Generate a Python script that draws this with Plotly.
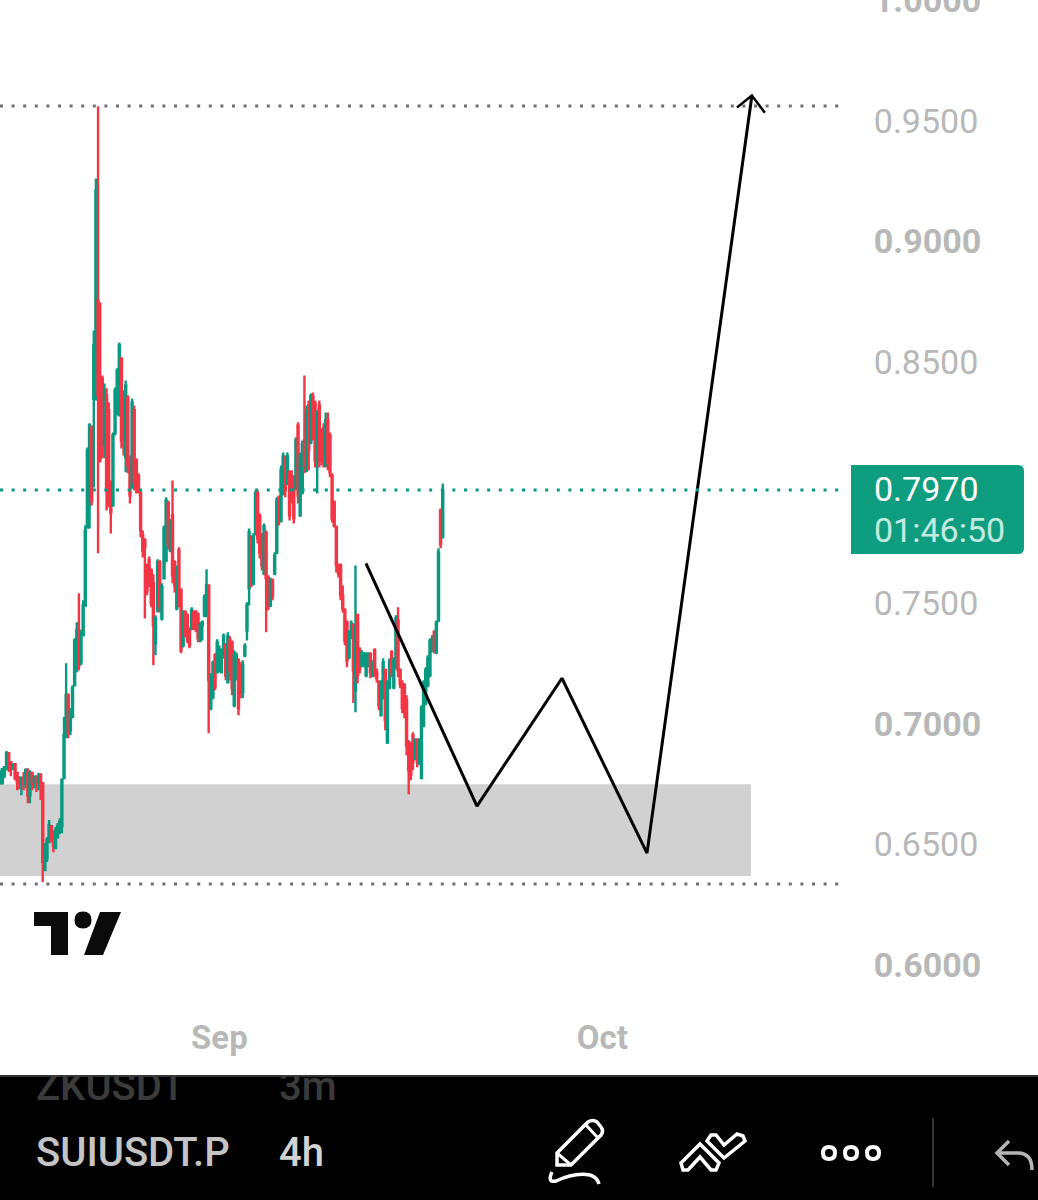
import re

import pandas as pd
import plotly.graph_objects as go

W = 1038
H = 1200

opens = [
    .6754, .6754, .6787, .6816, .6878, .6841, .6816, .6833, .6796, .6766,
    .6750, .6775, .6754, .6800, .6704, .6796, .6758, .6775, .6758, .6787,
    .6754, .6394, .6443, .6510, .6576, .6526, .6485, .6530, .6551, .6576,
    .6775, .6945, .7118, .6974, .7028, .7160, .7222, .7388, .7255, .7367,
    .7491, .7814, .7905, .8225, .8349, .8569, .8755, .8424, .8432, .8155,
    .8362, .8300, .7967, .7905, .8208, .8287, .8279, .8515, .8370, .8105,
    .8349, .8101, .7980, .8300, .8092, .8030, .7955, .7781, .7760, .7657,
    .7678, .7636, .7583, .7334, .7471, .7670, .7438, .7603, .7678, .7914,
    .7719, .7864, .7670, .7479, .7719, .7554, .7326, .7462, .7450, .7388,
    .7396, .7462, .7462, .7454, .7346, .7409, .7450, .7450, .7574, .7065,
    .7110, .7284, .7214, .7230, .7214, .7276, .7326, .7172, .7346, .7338,
    .7077, .7193, .7264, .7243, .7131, .7284, .7388, .7562, .7773, .7583,
    .7790, .7955, .7864, .7786, .7624, .7790, .7603, .7491, .7595, .7624,
    .7711, .7939, .7843, .7955, .8084, .7997, .8043, .8030, .8018, .7976,
    .8237, .7864, .7960, .8175, .8051, .8320, .8167, .8357, .8329, .8092,
    .8320, .8217, .8225, .8071, .8258, .8196, .8030, .7918, .7814, .7657,
    .7657, .7533, .7471, .7421, .7276, .7359, .7409, .7139, .7450, .7305,
    .7243, .7243, .7201, .7243, .7289, .7201, .7305, .7214, .7172, .7036,
    .7110, .7222, .6924, .7152, .7297, .7152, .7235, .7429, .7222, .7164,
    .7160, .7098, .6924, .6911, .6953, .6858, .6932, .6841, .6775, .6994,
    .7086, .7160, .7201, .7305, .7380, .7297, .7429, .7885, .7773,
]
highs = [
    .6808, .6816, .6824, .6887, .6878, .6845, .6837, .6837, .6800, .6783,
    .6783, .6800, .6816, .6816, .6808, .6796, .6787, .6787, .6796, .6796,
    .6754, .6506, .6530, .6601, .6580, .6559, .6572, .6589, .6609, .6775,
    .7028, .7251, .7127, .7065, .7160, .7355, .7421, .7541, .7388, .7512,
    .7823, .8146, .8246, .8237, .8631, .9261, .9560, .8747, .8444, .8411,
    .8391, .8333, .8009, .8208, .8395, .8474, .8581, .8515, .8382, .8424,
    .8362, .8113, .8349, .8320, .8101, .8039, .7967, .7802, .7769, .7665,
    .7694, .7645, .7620, .7450, .7682, .7678, .7583, .7822, .7939, .7926,
    .7848, .8009, .7678, .7657, .7732, .7562, .7471, .7471, .7458, .7400,
    .7483, .7471, .7471, .7462, .7421, .7429, .7537, .7641, .7578, .7210,
    .7263, .7293, .7351, .7326, .7313, .7375, .7334, .7380, .7363, .7346,
    .7305, .7297, .7272, .7255, .7264, .7334, .7504, .7810, .7781, .7790,
    .7968, .7968, .7872, .7790, .7831, .7802, .7616, .7607, .7603, .7711,
    .7939, .7947, .8071, .8125, .8113, .8125, .8051, .8051, .8030, .8188,
    .8250, .8125, .8175, .8444, .8320, .8341, .8370, .8374, .8341, .8300,
    .8341, .8225, .8246, .8291, .8291, .8208, .8039, .7926, .7822, .7665,
    .7665, .7574, .7479, .7429, .7388, .7429, .7417, .7657, .7458, .7318,
    .7305, .7297, .7297, .7297, .7297, .7264, .7313, .7230, .7181, .7181,
    .7272, .7230, .7181, .7272, .7305, .7276, .7450, .7483, .7230, .7181,
    .7168, .7119, .6932, .6924, .6965, .6940, .6940, .6940, .7077, .7181,
    .7235, .7284, .7355, .7367, .7388, .7429, .7728, .7893, .7997,
]
lows = [
    .6754, .6754, .6775, .6808, .6800, .6783, .6808, .6766, .6725, .6729,
    .6704, .6725, .6733, .6671, .6671, .6725, .6733, .6717, .6725, .6684,
    .6344, .6389, .6427, .6506, .6510, .6468, .6481, .6526, .6543, .6547,
    .6775, .6940, .6940, .6953, .7024, .7156, .7214, .7222, .7243, .7363,
    .7487, .7810, .7810, .7905, .7980, .8341, .7707, .8084, .8101, .8101,
    .7885, .7897, .7789, .7905, .8196, .8279, .8275, .8142, .8113, .8043,
    .8039, .7914, .7980, .7967, .7955, .7955, .7773, .7690, .7437, .7533,
    .7566, .7483, .7243, .7284, .7462, .7462, .7429, .7603, .7670, .7723,
    .7711, .7583, .7545, .7471, .7483, .7293, .7317, .7359, .7334, .7313,
    .7388, .7388, .7380, .7338, .7338, .7346, .7442, .7442, .6961, .7056,
    .7102, .7139, .7210, .7214, .7210, .7272, .7181, .7168, .7181, .7119,
    .7069, .7181, .7036, .7106, .7106, .7276, .7346, .7491, .7566, .7574,
    .7781, .7748, .7686, .7636, .7616, .7380, .7471, .7483, .7512, .7616,
    .7703, .7822, .7835, .7947, .7939, .7989, .7843, .7914, .7831, .7968,
    .7914, .7860, .7951, .8039, .8043, .8051, .8159, .8175, .8063, .7955,
    .8063, .8071, .8063, .8063, .8051, .8022, .7835, .7814, .7628, .7607,
    .7512, .7462, .7326, .7235, .7268, .7351, .7086, .7048, .7168, .7210,
    .7235, .7235, .7193, .7235, .7189, .7193, .7193, .7172, .7056, .7032,
    .7102, .6974, .6916, .7143, .7193, .7143, .7226, .7193, .7148, .7044,
    .7023, .6870, .6708, .6766, .6808, .6849, .6820, .6829, .6775, .6986,
    .7077, .7152, .7193, .7297, .7293, .7289, .7421, .7728, .7773,
]
closes = [
    .6800, .6812, .6820, .6878, .6824, .6829, .6833, .6775, .6758, .6750,
    .6775, .6754, .6808, .6704, .6796, .6758, .6775, .6758, .6783, .6746,
    .6427, .6497, .6518, .6580, .6526, .6497, .6559, .6576, .6593, .6766,
    .6953, .7119, .6965, .7048, .7148, .7346, .7388, .7243, .7367, .7491,
    .7802, .8134, .8237, .7926, .8569, .9211, .8362, .8101, .8155, .8382,
    .7967, .7918, .7876, .8196, .8382, .8465, .8569, .8175, .8155, .8403,
    .8072, .7947, .8333, .8001, .7976, .7967, .7802, .7719, .7732, .7554,
    .7574, .7500, .7409, .7438, .7670, .7487, .7570, .7810, .7926, .7740,
    .7835, .7616, .7574, .7645, .7500, .7305, .7450, .7380, .7346, .7326,
    .7471, .7396, .7396, .7355, .7409, .7421, .7525, .7574, .7181, .7197,
    .7251, .7156, .7338, .7305, .7305, .7363, .7201, .7363, .7222, .7148,
    .7284, .7284, .7065, .7131, .7243, .7322, .7491, .7794, .7587, .7777,
    .7955, .7769, .7711, .7657, .7819, .7603, .7491, .7595, .7529, .7698,
    .7926, .7843, .8051, .8109, .7968, .8109, .7864, .7935, .7852, .8175,
    .7947, .8113, .8159, .8071, .8300, .8134, .8357, .8196, .8092, .8279,
    .8092, .8092, .8084, .8258, .8084, .8043, .7852, .7822, .7657, .7624,
    .7533, .7479, .7346, .7264, .7346, .7417, .7222, .7396, .7201, .7230,
    .7293, .7289, .7243, .7284, .7214, .7251, .7214, .7189, .7077, .7160,
    .7255, .7015, .7164, .7260, .7214, .7264, .7438, .7222, .7164, .7065,
    .7048, .6911, .6808, .6787, .6841, .6928, .6849, .6928, .7065, .7168,
    .7222, .7272, .7342, .7346, .7305, .7417, .7711, .7744, .7970,
]

bar_times = pd.date_range('2024-08-14 20:00', periods=len(closes), freq='4h')

path_times = ['2024-09-12 11:40', '2024-09-21 04:20', '2024-09-27 20:10', '2024-10-04 12:00', '2024-10-12 17:15']
path_prices = [.7665, .6659, .7189, .6464, .9605]
head_times = ['2024-10-11 13:10', '2024-10-12 17:15', '2024-10-13 17:40']
head_prices = [.9555, .9605, .9534]

zone_times = ['2024-08-14 19:40', '2024-10-12 15:20']
zone_prices = [.6369, .6750]

high_level = .9562
low_level = .6336
last_price = .7970

price_ticks = [1.0, .95, .9, .85, .75, .7, .65, .6]
price_labels = ['<b>1.0000</b>', '0.9500', '<b>0.9000</b>', '0.8500', '0.7500', '<b>0.7000</b>', '0.6500', '<b>0.6000</b>']
month_ticks = ['2024-09-01', '2024-10-01']
month_labels = ['<b>Sep</b>', '<b>Oct</b>']

GREY_TEXT = '#b8b8b8'
TEAL = '#089981'
RED = '#F23645'


def px_path(d):
    # screen pixels -> paper coordinates
    return re.sub(
        r'(-?[\d.]+),(-?[\d.]+)',
        lambda m: f'{float(m[1]) / W:.5f},{1 - float(m[2]) / H:.5f}',
        d,
    )


def paper_shape(d, fill=None, color=None, width=0, layer='above'):
    return dict(
        type='path', xref='paper', yref='paper', path=px_path(d), layer=layer,
        fillcolor=fill if fill else 'rgba(0,0,0,0)',
        line=dict(color=color if color else 'rgba(0,0,0,0)', width=width),
    )


fig = go.Figure()

fig.add_trace(go.Candlestick(
    x=bar_times, open=opens, high=highs, low=lows, close=closes,
    increasing=dict(line=dict(color=TEAL, width=2.4), fillcolor=TEAL),
    decreasing=dict(line=dict(color=RED, width=2.4), fillcolor=RED),
    whiskerwidth=0,
    hoverinfo='skip',
))
fig.add_trace(go.Scatter(
    x=path_times, y=path_prices, mode='lines',
    line=dict(color='black', width=3), hoverinfo='skip',
))
fig.add_trace(go.Scatter(
    x=head_times, y=head_prices, mode='lines',
    line=dict(color='black', width=2.5), hoverinfo='skip',
))

# text in the black strip, clipped at its top edge
band_text = go.Scatter(
    x=[36, 279, 36, 279],
    y=[1090, 1090, 1156, 1156],
    text=['ZKUSDT', '3m', 'SUIUSDT.P', '4h'],
    mode='text',
    textposition='middle right',
    textfont=dict(family='Roboto', size=40, weight=500, color=['#3b3b3b', '#3b3b3b', '#c4c4c4', '#d2d2d2']),
    cliponaxis=True,
    xaxis='x2', yaxis='y2',
    hoverinfo='skip',
)
fig.add_trace(band_text)

shapes = [
    dict(type='rect', xref='x', yref='y', x0=zone_times[0], x1=zone_times[1],
         y0=zone_prices[0], y1=zone_prices[1], fillcolor='#d1d1d1', line_width=0, layer='below'),
    dict(type='line', xref='x domain', yref='y', x0=0, x1=846 / 850, y0=high_level, y1=high_level,
         line=dict(color='#6f6f6f', width=3, dash='3px,8.6px')),
    dict(type='line', xref='x domain', yref='y', x0=0, x1=846 / 850, y0=low_level, y1=low_level,
         line=dict(color='#6f6f6f', width=3, dash='3px,8.6px')),
    dict(type='line', xref='x domain', yref='y', x0=0, x1=846 / 850, y0=last_price, y1=last_price,
         line=dict(color=TEAL, width=3, dash='3px,8.6px')),
    # price badge
    paper_shape('M851,465 L1018,465 Q1024,465 1024,471 L1024,548 Q1024,554 1018,554 L851,554 Z', fill='#0f9d80'),
    # tradingview logo
    paper_shape('M34,912 L68,912 L68,955 L51,955 L51,926 L34,926 Z', fill='#0b0b0b'),
    paper_shape('M74.5,920 Q74.5,911.5 83,911.5 Q91.5,911.5 91.5,920 Q91.5,928.5 83,928.5 Q74.5,928.5 74.5,920 Z', fill='#0b0b0b'),
    paper_shape('M100,912 L121,912 L103,955 L84,955 Z', fill='#0b0b0b'),
    # bottom strip
    paper_shape('M0,1075 L1038,1075 L1038,1200 L0,1200 Z', fill='#000000', layer='below'),
    paper_shape('M0,1075 L1038,1075 L1038,1077 L0,1077 Z', fill='#333333', layer='below'),
    paper_shape('M932,1118 L934,1118 L934,1187 L932,1187 Z', fill='#333333'),
    # pen
    paper_shape('M557,1153 L588,1122 Q593,1119 597,1122 L601,1127 Q604,1131 601,1135 L571,1165 L557,1165 Z',
                color='white', width=3.5),
    paper_shape('M586,1125 L598,1138 M557,1153 L571,1165', color='white', width=3),
    paper_shape('M552,1172 Q547,1183 556,1181 Q575,1172 590,1175 Q597,1177 599,1184', color='white', width=3.5),
    # chevrons
    paper_shape('M681,1163 L700,1144 L719,1163 L716,1170 L711,1170 L700,1157 L688,1170 L683,1170 Z', color='white', width=3.5),
    paper_shape('M707,1141 L711,1135 L716,1135 L724,1145 L737,1134 L743,1136 L745,1141 L724,1158 Z', color='white', width=3.5),
    # more
    paper_shape('M823,1153 Q823,1147 829,1147 Q835,1147 835,1153 Q835,1159 829,1159 Q823,1159 823,1153 Z', color='white', width=4),
    paper_shape('M845,1153 Q845,1147 851,1147 Q857,1147 857,1153 Q857,1159 851,1159 Q845,1159 845,1153 Z', color='white', width=4),
    paper_shape('M867,1153 Q867,1147 873,1147 Q879,1147 879,1153 Q879,1159 873,1159 Q867,1159 867,1153 Z', color='white', width=4),
    # undo
    paper_shape('M1009,1141 L997,1153 L1009,1165 M997,1153 L1018,1153 Q1032,1153 1032,1170', color='#b4b4b4', width=3.5),
]

annotations = [
    dict(xref='paper', yref='paper', x=872 / W, y=1 - 489 / H, text='0.7970', showarrow=False,
         xanchor='left', yanchor='middle', font=dict(family='Roboto', size=34, color='white')),
    dict(xref='paper', yref='paper', x=872 / W, y=1 - 530 / H, text='01:46:50', showarrow=False,
         xanchor='left', yanchor='middle', font=dict(family='Roboto', size=34, color='#c2ebe0')),
]

fig.update_layout(
    width=W, height=H,
    margin=dict(l=0, r=0, t=0, b=0, autoexpand=False),
    paper_bgcolor='white', plot_bgcolor='rgba(0,0,0,0)',
    showlegend=False,
    shapes=shapes,
    annotations=annotations,
    xaxis=dict(
        domain=[0, 850 / W], type='date',
        range=['2024-08-14 19:40', '2024-10-20 09:40'],
        rangeslider=dict(visible=False),
        tickmode='array', tickvals=month_ticks, ticktext=month_labels,
        ticks='',
        tickfont=dict(family='Roboto', size=33, color=GREY_TEXT),
        showgrid=False, zeroline=False, showline=False,
    ),
    yaxis=dict(
        domain=[1 - 1015 / H, 1], side='right',
        range=[.5793, 1.0001],
        tickmode='array', tickvals=price_ticks, ticktext=price_labels,
        ticks='outside', ticklen=16, tickcolor='rgba(0,0,0,0)',
        ticklabeloverflow='allow',
        tickfont=dict(family='Roboto', size=34, color=GREY_TEXT),
        showgrid=False, zeroline=False, showline=False,
    ),
    xaxis2=dict(domain=[0, 1], range=[0, W], anchor='y2', visible=False, fixedrange=True),
    yaxis2=dict(domain=[0, 125 / H], range=[H, 1075], anchor='x2', visible=False, fixedrange=True),
)

fig.write_html('out.html', config=dict(displayModeBar=False),
               post_script="document.body.style.margin='0';document.body.style.overflow='hidden';")
